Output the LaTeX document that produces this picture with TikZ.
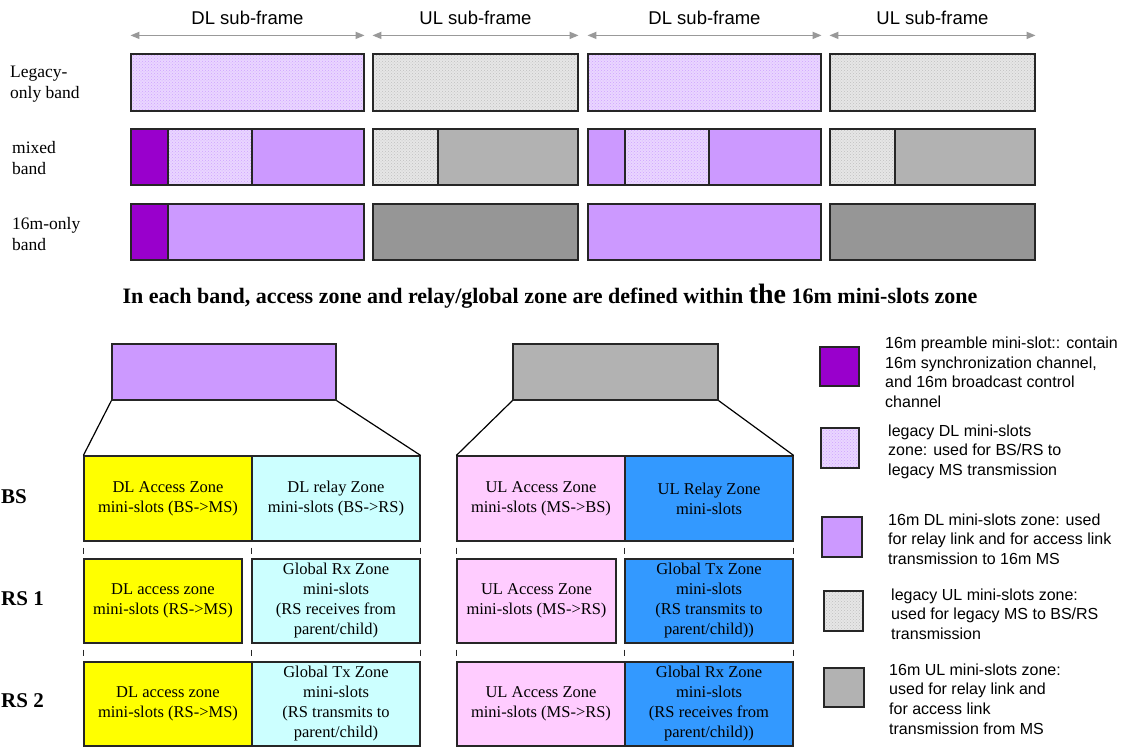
\documentclass[tikz,border=0pt]{standalone}
\usepackage{fontspec}
\setmainfont{Liberation Serif}
\newfontfamily\arialf{Liberation Sans}
\usetikzlibrary{patterns,fit,arrows.meta}
\definecolor{pdark}{HTML}{9900CC}
\definecolor{pdl}{HTML}{CC99FF}
\definecolor{plegb}{HTML}{EAD6FF}
\definecolor{plegd}{HTML}{CFA3FF}
\definecolor{glegb}{HTML}{E6E6E6}
\definecolor{glegd}{HTML}{C0C0C0}
\definecolor{gul}{HTML}{B2B2B2}
\definecolor{gultwo}{HTML}{969696}
\definecolor{yel}{HTML}{FFFF00}
\definecolor{cya}{HTML}{CCFFFF}
\definecolor{pnk}{HTML}{FFCCFF}
\definecolor{blu}{HTML}{3399FF}
\definecolor{arrg}{HTML}{999999}
\tikzset{
  box/.style={draw=black!85, line width=1.2pt, inner sep=0pt},
  legdl/.style={preaction={fill=plegb}, pattern=crosshatch dots, pattern color=plegd},
  legul/.style={preaction={fill=glegb}, pattern=crosshatch dots, pattern color=glegd},
  zt/.style={inner sep=0pt, align=center, anchor=center, font=\fontsize{16.5}{20}\selectfont},
  arr/.style={draw=arrg, line width=1.5pt, {Triangle[length=9pt,width=7pt]}-{Triangle[length=9pt,width=7pt]}},
  sublab/.style={anchor=base, inner sep=0pt, font=\arialf\fontsize{18.5}{22}\selectfont},
  bandlab/.style={anchor=west, inner sep=0pt, align=left, font=\fontsize{17.5}{21.5}\selectfont},
  rowlab/.style={anchor=base west, inner sep=0pt, font=\bfseries\fontsize{21}{24}\selectfont},
  legtxt/.style={anchor=north west, inner sep=0pt, align=left, font=\arialf\fontsize{16}{19.6}\selectfont},
  dashv/.style={draw=black!85, line width=1.2pt, dash pattern=on 6pt off 6pt, dash phase=6pt},
  trap/.style={draw=black, line width=1.2pt}
}
\begin{document}
\begin{tikzpicture}[x=1pt,y=-1pt]
\useasboundingbox (0,0) rectangle (1124,747);
% ---------- top frame rows ----------
% row 1: legacy-only
\node[box, legdl, fit={(131,54) (364,111)}] (a1) {};
\node[box, legul, fit={(373,54) (578,111)}] (a2) {};
\node[box, legdl, fit={(588,54) (821,111)}] (a3) {};
\node[box, legul, fit={(830,54) (1035,111)}] (a4) {};
% row 2: mixed
\node[box, fill=pdark, fit={(131,129) (168,185)}] (b1) {};
\node[box, legdl, fit={(168,129) (252,185)}] (b2) {};
\node[box, fill=pdl, fit={(252,129) (364,185)}] (b3) {};
\node[box, legul, fit={(373,129) (438,185)}] (b4) {};
\node[box, fill=gul, fit={(438,129) (578,185)}] (b5) {};
\node[box, fill=pdl, fit={(588,129) (625,185)}] (b6) {};
\node[box, legdl, fit={(625,129) (709,185)}] (b7) {};
\node[box, fill=pdl, fit={(709,129) (821,185)}] (b8) {};
\node[box, legul, fit={(830,129) (895,185)}] (b9) {};
\node[box, fill=gul, fit={(895,129) (1035,185)}] (b10) {};
% row 3: 16m-only
\node[box, fill=pdark, fit={(131,204) (168,260)}] (c1) {};
\node[box, fill=pdl, fit={(168,204) (364,260)}] (c2) {};
\node[box, fill=gultwo, fit={(373,204) (578,260)}] (c3) {};
\node[box, fill=pdl, fit={(588,204) (821,260)}] (c4) {};
\node[box, fill=gultwo, fit={(830,204) (1035,260)}] (c5) {};
% arrows and sub-frame labels
\foreach \n/\t in {a1/DL, a2/UL, a3/DL, a4/UL}{
  \draw[arr] ([yshift=18pt]\n.north west) -- ([yshift=18pt]\n.north east);
  \node[sublab] (lab\n) at ([yshift=29pt]\n.north) {\t\ sub-frame};
}
% band labels
\node[bandlab] (l1) at (10,84) {Legacy-\\only band};
\node[bandlab] (l2) at (12,158) {mixed\\band};
\node[bandlab] (l3) at (12,234) {16m-only\\band};
% middle sentence
\node[anchor=base, inner sep=0pt, font=\bfseries\fontsize{22}{26}\selectfont] (mid) at (550,303)
  {In each band, access zone and relay/global zone are defined within {\fontsize{28}{30}\selectfont the} 16m mini-slots zone};
% ---------- bottom zones ----------
\node[box, fill=pdl, fit={(112,344) (336,400)}] (dltop) {};
\node[box, fill=gul, fit={(513,344) (718,400)}] (ultop) {};
% BS row
\node[box, fill=yel, fit={(84,456) (252,541)}] (bsA) {};
\node[box, fill=cya, fit={(252,456) (420,541)}] (bsB) {};
\node[box, fill=pnk, fit={(457,456) (625,541)}] (bsC) {};
\node[box, fill=blu, fit={(625,456) (793,541)}] (bsD) {};
% RS1 row
\node[box, fill=yel, fit={(84,559) (242,643)}] (rsoA) {};
\node[box, fill=cya, fit={(252,559) (420,643)}] (rsoB) {};
\node[box, fill=pnk, fit={(457,559) (616,643)}] (rsoC) {};
\node[box, fill=blu, fit={(625,559) (793,643)}] (rsoD) {};
% RS2 row
\node[box, fill=yel, fit={(84,662) (252,746)}] (rstA) {};
\node[box, fill=cya, fit={(252,662) (420,746)}] (rstB) {};
\node[box, fill=pnk, fit={(457,662) (625,746)}] (rstC) {};
\node[box, fill=blu, fit={(625,662) (793,746)}] (rstD) {};
% zone texts
\node[zt] (xbsA) at (bsA.center) {DL Access Zone\\mini-slots (BS->MS)};
\node[zt] (xbsB) at (bsB.center) {DL relay Zone\\mini-slots (BS->RS)};
\node[zt] (xbsC) at (bsC.center) {UL Access Zone\\mini-slots (MS->BS)};
\node[zt] (xbsD) at (bsD.center) {UL Relay Zone\\mini-slots};
\node[zt] (xrsoA) at (rsoA.center) {DL access zone\\mini-slots (RS->MS)};
\node[zt] (xrsoB) at (rsoB.center) {Global Rx Zone\\mini-slots\\(RS receives from\\parent/child)};
\node[zt] (xrsoC) at (rsoC.center) {UL Access Zone\\mini-slots (MS->RS)};
\node[zt] (xrsoD) at (rsoD.center) {Global Tx Zone\\mini-slots\\(RS transmits to\\parent/child))};
\node[zt] (xrstA) at (rstA.center) {DL access zone\\mini-slots (RS->MS)};
\node[zt] (xrstB) at (rstB.center) {Global Tx Zone\\mini-slots\\(RS transmits to\\parent/child)};
\node[zt] (xrstC) at (rstC.center) {UL Access Zone\\mini-slots (MS->RS)};
\node[zt] (xrstD) at (rstD.center) {Global Rx Zone\\mini-slots\\(RS receives from\\parent/child))};
% dashed separators between rows
\foreach \p in {bsA.south west, bsB.south west, bsB.south east, bsC.south west, bsD.south west, bsD.south east}{
  \draw[dashv] (\p) -- (\p |- rsoB.north);
}
\foreach \p in {rstA.north west, rstB.north west, rstB.north east, rstC.north west, rstD.north west, rstD.north east}{
  \draw[dashv] (\p |- rsoB.south) -- (\p);
}
% trapezoid lines
\draw[trap] (dltop.south west) -- (bsA.north west);
\draw[trap] (dltop.south east) -- (bsB.north east);
\draw[trap] (ultop.south west) -- (bsC.north west);
\draw[trap] (ultop.south east) -- (bsD.north east);
% row labels
\node[rowlab] (rbs) at (1,503) {BS};
\node[rowlab] (rrs1) at (1,605) {RS 1};
\node[rowlab] (rrs2) at (1,707) {RS 2};
% ---------- legend ----------
\node[box, fill=pdark, fit={(820,347) (859,386)}] (k1) {};
\node[legtxt] (t1) at (885,337) {16m preamble mini-slot:: contain\\16m synchronization channel,\\and 16m broadcast control\\channel};
\node[box, legdl, fit={(821,428) (859,468)}] (k2) {};
\node[legtxt] (t2) at (888,424.5) {legacy DL mini-slots\\zone: used for BS/RS to\\legacy MS transmission};
\node[box, fill=pdl, fit={(822,517) (862,557)}] (k3) {};
\node[legtxt] (t3) at (888,513.5) {16m DL mini-slots zone: used\\for relay link and for access link\\transmission to 16m MS};
\node[box, legul, fit={(824,591) (863,631)}] (k4) {};
\node[legtxt] (t4) at (891,588.5) {legacy UL mini-slots zone:\\used for legacy MS to BS/RS\\transmission};
\node[box, fill=gul, fit={(824,668) (864,707)}] (k5) {};
\node[legtxt] (t5) at (889,663.5) {16m UL mini-slots zone:\\used for relay link and\\for access link\\transmission from MS};
\end{tikzpicture}
\end{document}
